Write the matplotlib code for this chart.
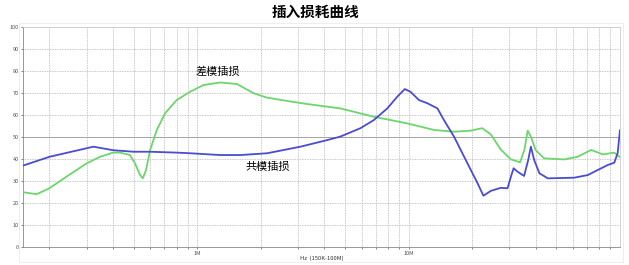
import numpy as np
import matplotlib.pyplot as plt
from matplotlib.ticker import FixedLocator, NullFormatter
from matplotlib.patches import Rectangle

plt.rcParams['font.family'] = ['Noto Sans CJK SC', 'DejaVu Sans']

# frequencies in MHz, insertion loss in dB
cm_freq = [0.15, 0.2, 0.323, 0.40, 0.50, 0.60, 0.80, 0.93, 1.285, 1.6, 2.14, 3.08, 4.12,
           4.76, 5.92, 6.85, 7.93, 8.84, 9.6, 10.2, 11.2, 12.3, 13.7, 14.7, 16.4, 19.0,
           21.2, 22.6, 24.5, 27.3, 29.4, 30.5, 31.4, 32.8, 35.2, 36.8, 37.9, 39.3, 41.6,
           45.6, 60.7, 70.5, 78.5, 87.7, 94, 97.5, 100]
cm_loss = [37, 41, 45.6, 44, 43.3, 43.3, 42.9, 42.6, 41.8, 41.8, 42.6, 45.6, 48.6,
           50.2, 54, 57.7, 63, 68.3, 71.8, 70.6, 66.8, 65.3, 63, 57.7, 50.2, 38,
           29, 23.3, 25.5, 26.9, 26.7, 32, 35.8, 34.2, 32.3, 39.5, 45.6, 39.5, 33.5,
           31.2, 31.5, 32.7, 35, 37.3, 38.3, 42.6, 53]

dm_freq = [0.15, 0.174, 0.2, 0.241, 0.3, 0.347, 0.40, 0.432, 0.481, 0.508, 0.537, 0.553,
           0.573, 0.599, 0.644, 0.705, 0.80, 0.927, 1.07, 1.285, 1.54, 1.85, 2.14, 2.66,
           3.31, 4.12, 4.76, 6.85, 9.85, 13.2, 16.4, 19.7, 22.3, 24.5, 27.3, 30.5, 33.7,
           35.3, 36.6, 37.9, 39.9, 43.8, 54.5, 63, 73, 77, 83, 94, 100]
dm_loss = [24.9, 24.0, 26.7, 32, 38, 41, 42.9, 42.9, 41.8, 38, 32.7, 31.2,
           35, 44.1, 53.2, 60.8, 66.8, 70.6, 73.6, 74.8, 74.1, 69.9, 67.9, 66.4,
           65, 63.8, 63, 59.2, 56.2, 53.2, 52.4, 52.9, 54, 51.2, 44.3, 39.8, 38.5,
           44.1, 52.9, 50.2, 44.1, 40.3, 39.8, 41, 44.1, 43.3, 42.1, 42.9, 40.8]

title = '插入损耗曲线'
dm_label = '差模插损'
cm_label = '共模插损'
xlabel = 'Hz  (150K-100M)'

fig = plt.figure(figsize=(6.29, 2.65), dpi=100)
fig.patches.append(Rectangle((0.03, 0.01), 0.96, 0.905, transform=fig.transFigure,
                             facecolor='none', edgecolor='#eeeeee', lw=0.8))
ax = fig.add_axes([0.0366, 0.068, 0.949, 0.830])

ax.plot(dm_freq, dm_loss, color='#6cd66c', lw=1.3, zorder=3)
ax.plot(cm_freq, cm_loss, color='#4b4bd4', lw=1.3, zorder=4)

ax.set_xscale('log')
ax.set_xlim(0.15, 100)
ax.set_ylim(0, 100)

ax.xaxis.set_major_locator(FixedLocator([1, 10]))
ax.set_xticklabels(['1M', '10M'])
minors = [m * d for d in (0.1, 1, 10) for m in range(2, 10)]
ax.xaxis.set_minor_locator(FixedLocator(minors))
ax.xaxis.set_minor_formatter(NullFormatter())
ax.set_yticks(range(0, 101, 10))

ax.grid(True, which='both', color='#b5b5b5', lw=0.6, ls=(0, (1, 1)))
ax.axhline(50, color='#999999', lw=0.7, zorder=1)
ax.tick_params(axis='both', which='both', labelsize=4, length=1.5, width=0.5,
               colors='#555555', pad=1.5)
for s in ax.spines.values():
    s.set_color('#cccccc')
    s.set_linewidth(0.6)
ax.spines['left'].set_color('#888888')
ax.spines['bottom'].set_color('#888888')

ax.text(1.257, 79.5, dm_label, fontsize=8, ha='center', va='center')
ax.text(2.146, 36.4, cm_label, fontsize=8, ha='center', va='center')

fig.text(322 / 629, 1 - 258 / 265, xlabel, fontsize=4.2, ha='center', va='center',
         color='#333333')
fig.text(316 / 629, 1 - 12 / 265, title, fontsize=10.5, fontweight='bold',
         ha='center', va='center')

fig.savefig('out.png', dpi=100)
